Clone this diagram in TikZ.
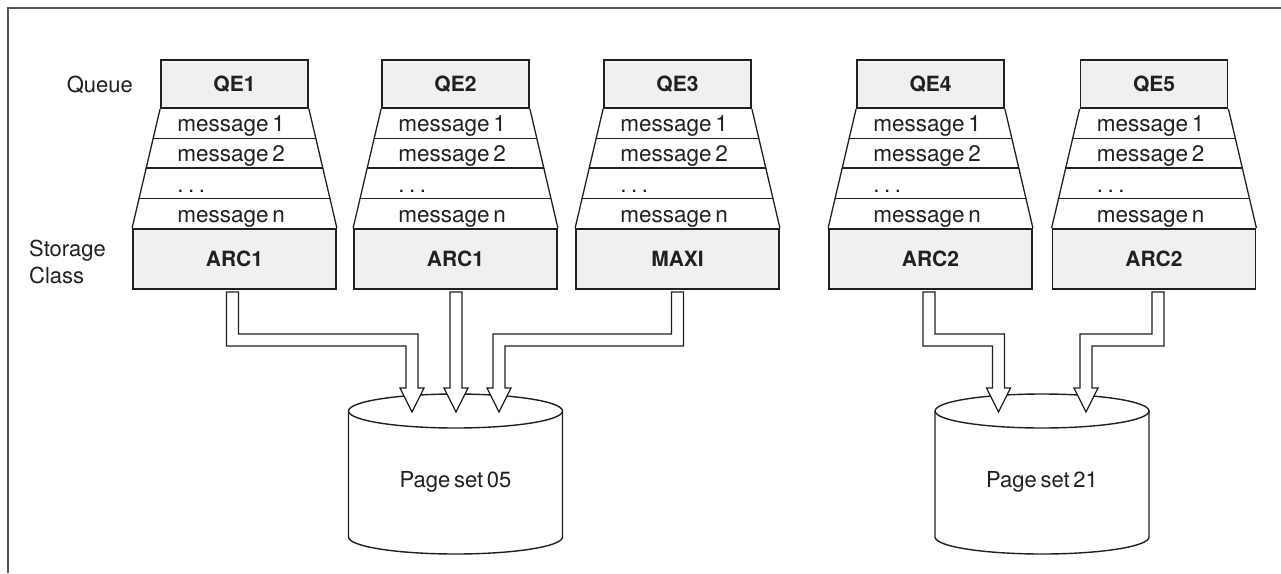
\documentclass[tikz,border=0pt]{standalone}
\usepackage{fontspec}
\setmainfont[WordSpace=0.6]{TeX Gyre Heros}
\usetikzlibrary{calc}
\definecolor{ink}{HTML}{231F20}
\definecolor{hdr}{HTML}{EFF0F2}
\definecolor{framec}{HTML}{555555}
\tikzset{
  hdrbox/.style={draw=ink, fill=hdr, line width=1.8pt, minimum width=147pt, minimum height=48pt, inner sep=0pt, font=\bfseries\fontsize{21}{25}\selectfont, text=ink},
  stbox/.style={draw=ink, fill=hdr, line width=1.8pt, minimum width=203pt, minimum height=60pt, inner sep=0pt, font=\bfseries\fontsize{21}{25}\selectfont, text=ink},
  side/.style={draw=ink, line width=1.3pt},
  sep/.style={draw=ink, line width=1.1pt},
  msg/.style={anchor=base west, inner sep=0pt, font=\fontsize{22.5}{26}\selectfont, text=ink},
  lbl/.style={inner sep=0pt, font=\fontsize{22}{27}\selectfont, text=ink},
  cyl/.style={draw=ink, line width=1.4pt, fill=white},
  fat/.style={draw=ink, line width=1.3pt, fill=white, line join=miter},
  framel/.style={draw=framec, line width=1.5pt},
}
\newcommand\qbox[4]{%
  \node[hdrbox] (q#1) at (#2,84) {#3};
  \node[stbox] (s#1) at (#2,259) {#4};
  \draw[side] (q#1.south west) -- (s#1.north west);
  \draw[side] (q#1.south east) -- (s#1.north east);
  \draw[sep] ($(q#1.south west)!0.248!(s#1.north west)$) -- ($(q#1.south east)!0.248!(s#1.north east)$);
  \draw[sep] ($(q#1.south west)!0.496!(s#1.north west)$) -- ($(q#1.south east)!0.496!(s#1.north east)$);
  \draw[sep] ($(q#1.south west)!0.752!(s#1.north west)$) -- ($(q#1.south east)!0.752!(s#1.north east)$);
  \node[msg] (m#1a) at ($(q#1.south west)+(17,23)$) {message 1};
  \node[msg] (m#1b) at ($(q#1.south west)+(17,53)$) {message 2};
  \node[msg] (m#1c) at ($(q#1.south west)+(17,84)$) {.\hspace{4.5pt}.\hspace{4.5pt}.};
  \node[msg] (m#1d) at ($(q#1.south west)+(17,114)$) {message n};
}
\newcommand\pageset[3]{%
  \draw[cyl] (#2-107,411) -- (#2-107,537) arc[start angle=180, end angle=0, x radius=107, y radius=17] -- (#2+107,411);
  \draw[cyl] (#2,411) ellipse[x radius=107, y radius=17];
  \node[lbl] (#1) at (#2,482) {#3};
}
\newcommand\fatarrow[3]{%
  \draw[fat] ($(#1)+(-6,0)$) -- ($(#1|-bend)+(-6,{6*(#3)})$) -- ($(#2|-bend)+(-6,{6*(#3)})$)
    -- ($(#2)+(-6,-24)$) -- ($(#2)+(-12,-24)$) -- (#2) -- ($(#2)+(12,-24)$) -- ($(#2)+(6,-24)$)
    -- ($(#2|-bend)+(6,{-6*(#3)})$) -- ($(#1|-bend)+(6,{-6*(#3)})$) -- ($(#1)+(6,0)$) -- cycle;
}
\begin{document}
\begin{tikzpicture}[x=1pt, y=-1pt]
\useasboundingbox (0,0) rectangle (1281,573);
\draw[framel] (8,573) -- (8,8) -- (1281,8);

\node[lbl, anchor=east] (queue) at (133,85) {Queue};
\node[lbl, anchor=west, align=left] (stclass) at (29,262) {Storage\\Class};

\qbox{1}{234.5}{QE1}{ARC1}
\qbox{2}{455.5}{QE2}{ARC1}
\qbox{3}{677.5}{QE3}{MAXI}
\qbox{4}{930.5}{QE4}{ARC2}
\qbox{5}{1154}{QE5}{ARC2}

\pageset{ps05}{455.5}{Page set 05}
\pageset{ps21}{1042}{Page set 21}

\coordinate (bend) at (0,340);
\coordinate (a1) at (232.5,292);
\coordinate (a2) at (456,292);
\coordinate (a3) at (677.5,292);
\coordinate (a4) at (929,292);
\coordinate (a5) at (1158,292);
\coordinate (t1) at (412,412);
\coordinate (t2) at (456,412);
\coordinate (t3) at (499,412);
\coordinate (t4) at (998.5,412);
\coordinate (t5) at (1086,412);

\fatarrow{a1}{t1}{1}
\fatarrow{a2}{t2}{0}
\fatarrow{a3}{t3}{-1}
\fatarrow{a4}{t4}{1}
\fatarrow{a5}{t5}{-1}
\end{tikzpicture}
\end{document}
